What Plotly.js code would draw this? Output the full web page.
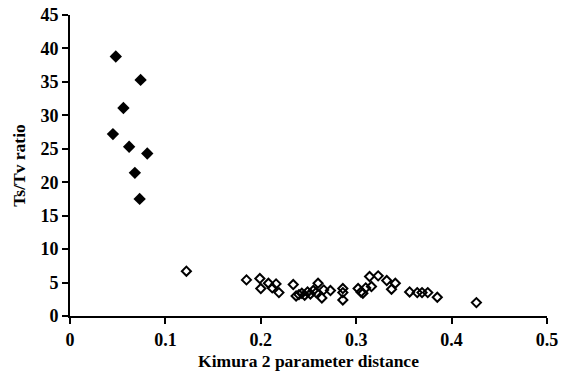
<!DOCTYPE html>
<html>
<head>
<meta charset="utf-8">
<script src="https://cdn.plot.ly/plotly-3.0.1.min.js"></script>
<style>html,body{margin:0;padding:0;background:#fff;}#chart{width:569px;height:375px;}</style>
</head>
<body>
<div id="chart"></div>
<script>
const filledX = [0.048, 0.074, 0.056, 0.045, 0.062, 0.081, 0.068, 0.073];
const filledY = [38.8, 35.3, 31.1, 27.2, 25.3, 24.3, 21.4, 17.5];

const openX = [0.122, 0.185, 0.199, 0.200, 0.208, 0.212, 0.216, 0.219, 0.234, 0.237,
               0.240, 0.243, 0.246, 0.249, 0.252, 0.255, 0.258, 0.260, 0.266, 0.264,
               0.273, 0.286, 0.286, 0.286, 0.302, 0.305, 0.307, 0.310, 0.314, 0.316,
               0.323, 0.332, 0.337, 0.341, 0.356, 0.364, 0.369, 0.375, 0.385, 0.426];
const openY = [6.7, 5.4, 5.6, 4.1, 4.9, 4.2, 4.8, 3.5, 4.7, 3.0,
               3.2, 3.4, 3.1, 3.6, 3.3, 3.8, 3.5, 4.9, 3.9, 2.7,
               3.8, 4.1, 3.5, 2.4, 4.1, 3.6, 3.4, 4.2, 5.9, 4.4,
               6.0, 5.3, 4.0, 4.9, 3.6, 3.5, 3.5, 3.5, 2.8, 2.0];

const xTicks = [0, 0.1, 0.2, 0.3, 0.4, 0.5];
const xTickText = ['0', '0.1', '0.2', '0.3', '0.4', '0.5'];
const yTicks = [0, 5, 10, 15, 20, 25, 30, 35, 40, 45];

const serif = 'Liberation Serif, Times New Roman, serif';

const traces = [
  {
    x: openX, y: openY, type: 'scatter', mode: 'markers',
    marker: {symbol: 'diamond-open', size: 7, color: '#000', line: {width: 2, color: '#000'}},
    hoverinfo: 'skip'
  },
  {
    x: filledX, y: filledY, type: 'scatter', mode: 'markers',
    marker: {symbol: 'diamond', size: 9.5, color: '#000', line: {width: 0}},
    hoverinfo: 'skip'
  }
];

const layout = {
  width: 569, height: 375,
  margin: {l: 70, r: 22, t: 15, b: 59},
  paper_bgcolor: '#fff', plot_bgcolor: '#fff',
  showlegend: false,
  xaxis: {
    range: [0, 0.5], tickvals: xTicks, ticktext: xTickText,
    showgrid: false, zeroline: false, showline: true, linecolor: '#000', linewidth: 2,
    ticks: 'outside', ticklen: 6, tickwidth: 2, tickcolor: '#000',
    tickfont: {family: serif, size: 18, color: '#000', weight: 'bold'},
    title: {text: 'Kimura 2 parameter distance', font: {family: serif, size: 17.5, color: '#000', weight: 'bold'}, standoff: 6}
  },
  yaxis: {
    range: [0, 45], tickvals: yTicks,
    showgrid: false, zeroline: false, showline: true, linecolor: '#000', linewidth: 2,
    ticks: 'outside', ticklen: 6, tickwidth: 2, tickcolor: '#000',
    tickfont: {family: serif, size: 18, color: '#000', weight: 'bold'},
    title: {text: 'Ts/Tv ratio', font: {family: serif, size: 17.5, color: '#000', weight: 'bold'}, standoff: 10}
  }
};

Plotly.newPlot('chart', traces, layout, {displayModeBar: false, staticPlot: true});
</script>
</body>
</html>
